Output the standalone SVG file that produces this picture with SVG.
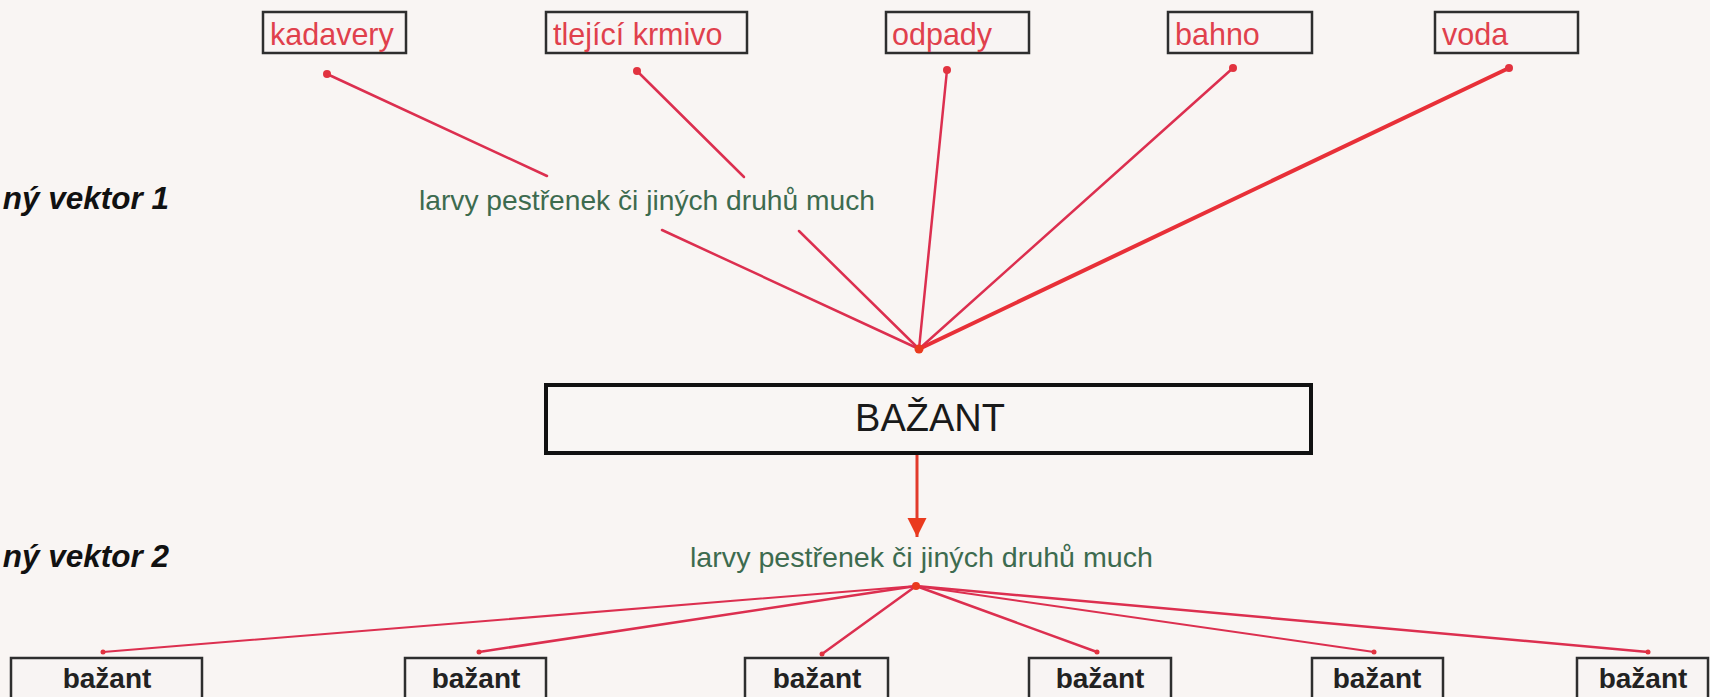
<svg xmlns="http://www.w3.org/2000/svg" width="1710" height="697" viewBox="0 0 1710 697">
<style>
.bg{fill:#f9f5f3}
.src rect{fill:#f8f4f3;stroke:#2e2e2e;stroke-width:2.5}
.src text{font-family:"Liberation Sans",Arial,sans-serif;font-size:30.5px;fill:#e0404c}
.tgt rect{fill:#f8f4f3;stroke:#2e2e2e;stroke-width:2.5}
.tgt text{font-family:"Liberation Sans",Arial,sans-serif;font-size:28px;font-weight:bold;fill:#222;text-anchor:middle}
.green{font-family:"Liberation Sans",Arial,sans-serif;font-size:28px;fill:#3d6b4f}
.side{font-family:"Liberation Sans",Arial,sans-serif;font-size:31.5px;font-weight:bold;font-style:italic;fill:#111;text-anchor:end}
.ln{stroke:#dc2f4f;stroke-width:2.5;fill:none;stroke-linecap:round}
.thick{stroke:#e83038;stroke-width:4}
.thin{stroke-width:2}
.dot{fill:#e2333f}
</style>
<defs>
<marker id="ah" viewBox="0 0 10 10" refX="10" refY="5" markerWidth="6.5" markerHeight="7" markerUnits="strokeWidth" orient="auto">
<path d="M0,0 L10,5 L0,10 z" fill="#ea3a1e"/>
</marker>
</defs>
<rect class="bg" x="0" y="0" width="1710" height="697"/>

<text class="side" x="169" y="209">ný vektor 1</text>
<text class="side" x="169" y="567">ný vektor 2</text>

<g id="connectors">
<line class="ln" x1="327" y1="74" x2="547" y2="176"/>
<line class="ln" x1="662" y1="230" x2="919" y2="349"/>
<line class="ln" x1="637" y1="71" x2="744" y2="177"/>
<line class="ln" x1="799" y1="231" x2="919" y2="349"/>
<line class="ln" x1="947" y1="70" x2="919" y2="349"/>
<line class="ln" x1="1233" y1="68" x2="919" y2="349"/>
<line class="ln thick" x1="1509" y1="68" x2="919" y2="349"/>
<circle class="dot" cx="327" cy="74" r="4"/>
<circle class="dot" cx="637" cy="71" r="4"/>
<circle class="dot" cx="947" cy="70" r="4"/>
<circle class="dot" cx="1233" cy="68" r="4"/>
<circle class="dot" cx="1509" cy="68" r="4"/>
<circle cx="919" cy="349" r="4.5" fill="#ea3a1e"/>

<line x1="917" y1="455" x2="917" y2="537" stroke="#e23a2a" stroke-width="3" marker-end="url(#ah)"/>

<line class="ln thin" x1="916" y1="586" x2="103" y2="652"/>
<line class="ln" x1="916" y1="586" x2="479" y2="652"/>
<line class="ln" x1="916" y1="586" x2="822" y2="654"/>
<line class="ln" x1="916" y1="586" x2="1097" y2="652"/>
<line class="ln thin" x1="916" y1="586" x2="1374" y2="652"/>
<line class="ln" x1="916" y1="586" x2="1648" y2="652"/>
<circle cx="916" cy="586" r="4" fill="#ea3a1e"/>
<circle class="dot" cx="103" cy="652" r="2.5"/>
<circle class="dot" cx="479" cy="652" r="2.5"/>
<circle class="dot" cx="822" cy="654" r="2.5"/>
<circle class="dot" cx="1097" cy="652" r="2.5"/>
<circle class="dot" cx="1374" cy="652" r="2.5"/>
<circle class="dot" cx="1648" cy="652" r="2.5"/>
</g>

<g id="kadavery" class="src"><rect x="263" y="12" width="143" height="41"/><text x="270" y="45">kadavery</text></g>
<g id="tlejici" class="src"><rect x="546" y="12" width="201" height="41"/><text x="553" y="45">tlející krmivo</text></g>
<g id="odpady" class="src"><rect x="886" y="12" width="143" height="41"/><text x="892" y="45">odpady</text></g>
<g id="bahno" class="src"><rect x="1168" y="12" width="144" height="41"/><text x="1175" y="45">bahno</text></g>
<g id="voda" class="src"><rect x="1435" y="12" width="143" height="41"/><text x="1442" y="45">voda</text></g>

<g id="larvy1"><text class="green" x="419" y="210" textLength="456" lengthAdjust="spacingAndGlyphs">larvy pestřenek či jiných druhů much</text></g>

<g id="bazant-main"><rect x="546" y="385" width="765" height="68" fill="#f9f6f4" stroke="#111" stroke-width="4"/><text x="930" y="431" font-family="Liberation Sans, Arial, sans-serif" font-size="38" fill="#1a1a1a" text-anchor="middle">BAŽANT</text></g>

<g id="larvy2"><text class="green" x="690" y="567" textLength="463" lengthAdjust="spacingAndGlyphs">larvy pestřenek či jiných druhů much</text></g>

<g id="b1" class="tgt"><rect x="11" y="658" width="191" height="60"/><text x="107" y="688">bažant</text></g>
<g id="b2" class="tgt"><rect x="405" y="658" width="141" height="60"/><text x="476" y="688">bažant</text></g>
<g id="b3" class="tgt"><rect x="745" y="658" width="143" height="60"/><text x="817" y="688">bažant</text></g>
<g id="b4" class="tgt"><rect x="1029" y="658" width="142" height="60"/><text x="1100" y="688">bažant</text></g>
<g id="b5" class="tgt"><rect x="1312" y="658" width="131" height="60"/><text x="1377" y="688">bažant</text></g>
<g id="b6" class="tgt"><rect x="1577" y="658" width="131" height="60"/><text x="1643" y="688">bažant</text></g>
</svg>
